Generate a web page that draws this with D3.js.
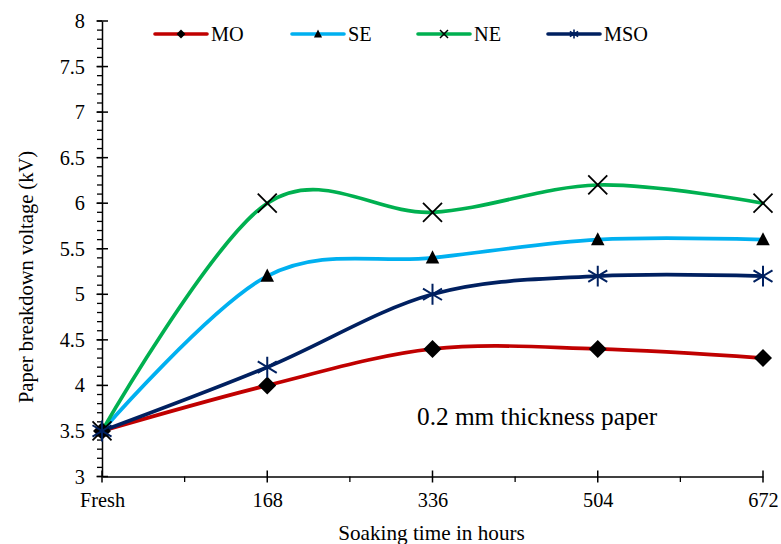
<!DOCTYPE html>
<html>
<head>
<meta charset="utf-8">
<script src="https://cdn.jsdelivr.net/npm/d3@7/dist/d3.min.js"></script>
<style>
  html, body { margin: 0; padding: 0; background: #fff; }
  svg { display: block; }
</style>
</head>
<body>
<svg id="chart" width="781" height="544"></svg>
<script>
const categories = ["Fresh", "168", "336", "504", "672"];
const seriesNames = ["MO", "SE", "NE", "MSO"];
const moValues  = [3.5, 4.0, 4.4, 4.4, 4.3];
const seValues  = [3.5, 5.2, 5.4, 5.6, 5.6];
const neValues  = [3.5, 6.0, 5.9, 6.2, 6.0];
const msoValues = [3.5, 4.2, 5.0, 5.2, 5.2];
const yTicks = [3, 3.5, 4, 4.5, 5, 5.5, 6, 6.5, 7, 7.5, 8];
const yTitle = "Paper breakdown voltage (kV)";
const xTitle = "Soaking time in hours";
const note = "0.2 mm thickness paper";

const FONT = "'Liberation Serif', 'Times New Roman', Times, 'DejaVu Serif', serif";
const colors = { MO: "#C00000", SE: "#00B0F0", NE: "#00B050", MSO: "#002060" };
const markerType = { MO: "diamond", SE: "triangle", NE: "x", MSO: "star" };
const seriesData = { MO: moValues, SE: seValues, NE: neValues, MSO: msoValues };

const svg = d3.select("#chart");
const pLeft = 102, pRight = 763, pTop = 21, pBottom = 476.5;

const x = d3.scalePoint().domain(categories).range([pLeft, pRight]);
const y = d3.scaleLinear().domain([3, 8]).range([pBottom, pTop]);

// Y axis
const yAxis = d3.axisLeft(y).tickValues(yTicks).tickFormat(d3.format("")).tickSizeInner(0).tickSizeOuter(0).tickPadding(17);
const gy = svg.append("g").attr("transform", `translate(${pLeft},0)`).call(yAxis);
gy.attr("font-family", null).attr("font-size", null);
gy.select(".domain").attr("stroke", "#000").attr("stroke-width", 1.5);
gy.selectAll("text").style("font-family", FONT).style("font-size", "20.3px").attr("fill", "#000");
// minor y ticks (outside)
const yMinor = d3.range(30, 81).map(v => v / 10);
svg.append("g").selectAll("line").data(yMinor).join("line")
  .attr("x1", pLeft - 5).attr("x2", pLeft)
  .attr("y1", d => y(d)).attr("y2", d => y(d))
  .attr("stroke", "#000").attr("stroke-width", 1.3);
// major y ticks (cross)
svg.append("g").selectAll("line").data(yTicks).join("line")
  .attr("x1", pLeft - 5.5).attr("x2", pLeft + 6)
  .attr("y1", d => y(d)).attr("y2", d => y(d))
  .attr("stroke", "#000").attr("stroke-width", 1.5);

// X axis
const xAxis = d3.axisBottom(x).tickSizeInner(0).tickSizeOuter(0).tickPadding(16);
const gx = svg.append("g").attr("transform", `translate(0,${pBottom})`).call(xAxis);
gx.attr("font-family", null).attr("font-size", null);
gx.select(".domain").attr("stroke", "#000").attr("stroke-width", 1.5);
gx.selectAll("text").style("font-family", FONT).style("font-size", "20.3px").attr("fill", "#000");
// major x ticks (cross)
svg.append("g").selectAll("line").data(categories).join("line")
  .attr("x1", d => x(d)).attr("x2", d => x(d))
  .attr("y1", pBottom - 6).attr("y2", pBottom + 6)
  .attr("stroke", "#000").attr("stroke-width", 1.5);
// minor x ticks (outside) at midpoints
const step = x.step();
svg.append("g").selectAll("line").data(categories.slice(0, -1)).join("line")
  .attr("x1", d => x(d) + step / 2).attr("x2", d => x(d) + step / 2)
  .attr("y1", pBottom).attr("y2", pBottom + 5.5)
  .attr("stroke", "#000").attr("stroke-width", 1.3);

// Titles
svg.append("text").attr("x", 431.5).attr("y", 540).attr("text-anchor", "middle")
  .style("font-family", FONT).style("font-size", "21.2px").text(xTitle);
svg.append("text").attr("transform", "translate(33,277) rotate(-90)").attr("text-anchor", "middle")
  .style("font-family", FONT).style("font-size", "20.5px").text(yTitle);
svg.append("text").attr("x", 417).attr("y", 425)
  .style("font-family", FONT).style("font-size", "25.3px").text(note);

// Lines
const line = d3.line().x((d, i) => x(categories[i])).y(d => y(d)).curve(d3.curveCardinal.tension(0));
function drawMarker(g, type, cx, cy, s, color) {
  if (type === "diamond") {
    g.append("path").attr("d", `M${cx},${cy - s}L${cx + s},${cy}L${cx},${cy + s}L${cx - s},${cy}Z`).attr("fill", "#000");
  } else if (type === "triangle") {
    g.append("path").attr("d", `M${cx},${cy - s}L${cx + s * 0.9},${cy + s * 0.75}L${cx - s * 0.9},${cy + s * 0.75}Z`).attr("fill", "#000");
  } else if (type === "x") {
    g.append("path").attr("d", `M${cx - s},${cy - s}L${cx + s},${cy + s}M${cx - s},${cy + s}L${cx + s},${cy - s}`)
      .attr("stroke", "#000").attr("stroke-width", s > 6 ? 1.8 : 1.5).attr("fill", "none");
  } else if (type === "star") {
    g.append("path").attr("d", `M${cx - s},${cy - s * 0.6}L${cx + s},${cy + s * 0.6}M${cx - s},${cy + s * 0.6}L${cx + s},${cy - s * 0.6}M${cx},${cy - s * 1.1}L${cx},${cy + s * 1.1}`)
      .attr("stroke", color).attr("stroke-width", s > 6 ? 2 : 1.6).attr("fill", "none");
  }
}
const gl = svg.append("g");
seriesNames.forEach(name => {
  gl.append("path").datum(seriesData[name]).attr("d", line)
    .attr("fill", "none").attr("stroke", colors[name]).attr("stroke-width", 3.7).attr("stroke-linecap", "round");
});
const markerSize = { diamond: 9, triangle: 7.5, x: 9.5, star: 9.5 };
seriesNames.forEach(name => {
  const g = svg.append("g");
  seriesData[name].forEach((v, i) => drawMarker(g, markerType[name], x(categories[i]), y(v), markerSize[markerType[name]], colors[name]));
});

// Legend
const legendX = [155, 292, 418, 548];
const legY = 34;
seriesNames.forEach((name, i) => {
  const g = svg.append("g");
  g.append("line").attr("x1", legendX[i]).attr("x2", legendX[i] + 52).attr("y1", legY).attr("y2", legY)
    .attr("stroke", colors[name]).attr("stroke-width", 3.6).attr("stroke-linecap", "round");
  const ms = { diamond: 4.5, triangle: 4.5, x: 4, star: 4.2 }[markerType[name]];
  drawMarker(g, markerType[name], legendX[i] + 26, legY, ms, colors[name]);
  g.append("text").attr("x", legendX[i] + 56).attr("y", legY + 7)
    .style("font-family", FONT).style("font-size", "20.3px").text(name);
});
</script>
</body>
</html>
